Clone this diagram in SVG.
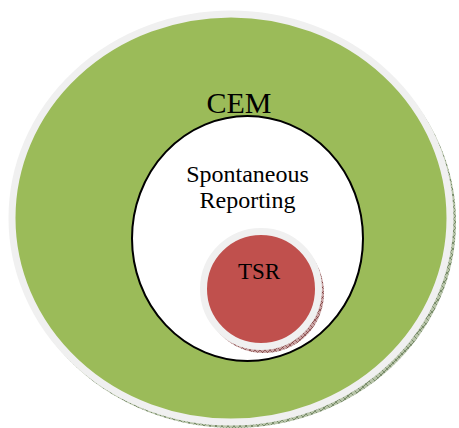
<svg xmlns="http://www.w3.org/2000/svg" width="459" height="428" viewBox="0 0 459 428">
<style>
.lbl{font-family:"Liberation Serif","Times New Roman",serif;fill:#000;text-anchor:middle}
</style>
<defs>
<pattern id="hatchG" width="6" height="6" patternUnits="userSpaceOnUse">
<rect width="6" height="6" fill="#b7c4a8"/>
<path d="M0,0 L6,6 M6,0 L0,6" stroke="#5f7450" stroke-width="0.7"/>
</pattern>
<pattern id="hatchR" width="5" height="5" patternUnits="userSpaceOnUse">
<rect width="5" height="5" fill="#c9a4a4"/>
<path d="M0,0 L5,5 M5,0 L0,5" stroke="#6e2a2a" stroke-width="0.6"/>
</pattern>
</defs>
<g id="cem">
<ellipse cx="234" cy="222" rx="222" ry="206" fill="url(#hatchG)"/>
<ellipse cx="231" cy="218" rx="219" ry="204" fill="#9bbb59" stroke="#f0f0f0" stroke-width="7"/>
<text class="lbl" x="239" y="113" font-size="30">CEM</text>
</g>
<g id="spontaneous">
<ellipse cx="247.5" cy="238.5" rx="115.5" ry="122.5" fill="#fff" stroke="#000" stroke-width="2"/>
<text class="lbl" x="247.5" y="182" font-size="24">Spontaneous</text>
<text class="lbl" x="247.5" y="208" font-size="24">Reporting</text>
</g>
<g id="tsr">
<circle cx="264" cy="293" r="60" fill="url(#hatchR)"/>
<circle cx="261" cy="289" r="57.5" fill="#c0504d" stroke="#f0f0f0" stroke-width="7"/>
<text class="lbl" x="259" y="279" font-size="23">TSR</text>
</g>
<g id="connectors"/>
</svg>
